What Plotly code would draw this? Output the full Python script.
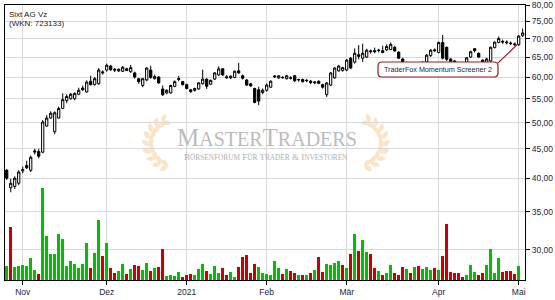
import math
import pandas as pd
import plotly.graph_objects as go

# ---------------- data ----------------
holidays = ["2020-12-24", "2020-12-25", "2020-12-31", "2021-01-01", "2021-04-02", "2021-04-05"]
dates = pd.bdate_range("2020-10-27", "2021-05-04")
dates = dates[~dates.isin(pd.to_datetime(holidays))]

opens = [41.3, 38.5, 38.7, 39.2, 41.2, 42.1, 41.3, 44.4, 44.5, 44.4,
         49.3, 50.9, 48.2, 50.9, 52.9, 54.6, 55.0, 55.0, 56.0, 57.4,
         56.5, 59.0, 58.2, 58.4, 61.0, 61.7, 62.7, 61.9, 61.5, 61.4,
         62.0, 61.3, 61.0, 59.6, 58.0, 59.3, 61.7, 59.6, 60.0, 57.2,
         56.3, 56.3, 57.8, 59.4, 58.9, 58.2, 57.0, 56.9, 57.2, 58.4,
         59.5, 58.3, 59.5, 60.5, 62.0, 59.8, 59.8, 59.9, 61.5, 60.3,
         59.3, 58.4, 57.3, 57.0, 56.4, 56.9, 57.6, 60.0, 59.8, 59.8,
         59.6, 59.7, 60.3, 59.3, 59.4, 59.1, 59.0, 58.6, 59.0, 58.2,
         55.9, 58.1, 59.8, 61.5, 61.6, 61.7, 64.7, 63.7, 65.6, 64.7,
         65.0, 66.4, 66.7, 66.7, 66.2, 66.9, 67.0, 67.6, 66.3, 64.5,
         62.8, 63.4, 62.8, 63.2, 62.9, 63.7, 65.4, 66.9, 66.2, 68.9,
         67.6, 64.5, 64.0, 63.0, 62.0, 63.5, 65.0, 67.2, 66.0, 64.2,
         63.5, 64.0, 67.5, 68.9, 69.0, 68.8, 68.6, 68.3, 68.3, 70.8]
highs = [41.5, 39.9, 40.3, 41.3, 41.9, 42.9, 43.8, 45.0, 45.0, 50.5,
         51.5, 52.3, 52.3, 53.3, 56.2, 56.0, 56.3, 56.4, 57.5, 58.0,
         59.2, 60.3, 60.0, 62.2, 61.6, 63.3, 63.0, 62.2, 62.1, 62.7,
         62.3, 63.0, 61.3, 59.8, 59.8, 62.4, 62.8, 60.6, 60.2, 58.0,
         57.1, 58.2, 59.2, 60.3, 59.1, 58.4, 57.2, 57.5, 58.8, 61.8,
         59.7, 59.4, 61.2, 62.6, 62.2, 60.5, 60.4, 61.6, 63.5, 60.6,
         59.5, 58.6, 57.5, 57.7, 57.3, 58.5, 59.2, 60.5, 60.4, 60.2,
         60.5, 60.2, 60.5, 59.6, 59.6, 59.5, 59.3, 59.0, 59.2, 58.4,
         58.8, 61.2, 62.4, 63.0, 62.5, 64.5, 65.0, 67.3, 68.2, 68.6,
         67.2, 67.0, 67.5, 67.2, 68.0, 68.4, 68.9, 67.9, 66.5, 64.8,
         63.8, 63.6, 63.6, 63.5, 64.0, 65.8, 67.1, 67.3, 69.2, 71.0,
         67.8, 64.7, 64.2, 63.3, 62.8, 65.0, 66.7, 67.4, 66.2, 64.4,
         64.8, 67.8, 69.2, 70.6, 69.7, 69.5, 69.2, 68.9, 71.0, 72.9]
lows = [39.7, 37.8, 38.3, 38.9, 40.8, 41.5, 41.0, 44.0, 43.3, 44.2,
        49.2, 50.8, 47.7, 50.8, 52.8, 54.0, 54.8, 54.7, 55.8, 56.8,
        56.4, 58.0, 58.0, 58.2, 60.6, 61.3, 61.5, 61.2, 61.2, 61.2,
        61.4, 61.0, 59.6, 58.4, 57.6, 59.0, 59.6, 59.4, 58.4, 55.6,
        56.0, 56.1, 57.6, 59.0, 58.0, 57.1, 56.3, 56.6, 57.0, 58.2,
        57.2, 58.1, 59.3, 60.3, 60.3, 59.6, 59.5, 59.7, 60.8, 59.4,
        57.9, 57.7, 54.0, 53.6, 56.0, 56.6, 57.4, 59.8, 59.5, 59.6,
        59.4, 59.4, 58.8, 58.9, 58.7, 58.8, 58.3, 58.3, 58.3, 57.3,
        55.4, 57.9, 59.6, 61.3, 61.3, 61.4, 62.0, 63.3, 64.4, 63.7,
        64.8, 65.9, 66.0, 66.2, 66.0, 66.6, 66.8, 66.4, 64.5, 62.5,
        62.5, 62.6, 62.5, 62.5, 62.6, 63.2, 65.0, 66.3, 66.0, 64.4,
        64.0, 63.6, 62.8, 62.0, 61.8, 63.2, 64.8, 66.2, 64.8, 63.0,
        63.2, 63.8, 67.3, 68.7, 68.5, 68.4, 68.2, 67.9, 68.0, 70.5]
closes = [40.0, 39.2, 40.0, 41.0, 41.4, 41.7, 43.5, 44.6, 43.7, 50.1,
          50.9, 51.9, 52.0, 52.9, 54.8, 55.5, 56.0, 56.2, 56.9, 57.0,
          58.8, 58.2, 59.6, 61.7, 61.2, 62.9, 61.8, 61.7, 61.9, 62.4,
          61.6, 62.3, 60.0, 58.9, 59.6, 62.2, 59.9, 60.1, 58.6, 55.9,
          56.9, 58.0, 58.9, 59.6, 58.2, 57.3, 56.6, 57.3, 58.6, 59.5,
          57.8, 59.2, 61.0, 62.0, 60.5, 60.0, 60.2, 61.4, 61.0, 59.7,
          58.1, 57.9, 54.2, 54.5, 56.9, 58.1, 59.0, 60.2, 60.3, 59.9,
          60.3, 59.8, 59.1, 59.4, 58.9, 59.2, 58.7, 58.8, 58.5, 57.6,
          58.6, 61.0, 62.2, 62.7, 62.3, 64.2, 62.2, 66.0, 65.2, 66.0,
          66.8, 66.6, 66.4, 66.8, 66.7, 67.8, 68.4, 66.6, 64.7, 63.0,
          63.5, 62.9, 63.4, 62.8, 63.6, 65.5, 66.8, 66.7, 68.9, 64.7,
          64.4, 63.9, 63.3, 62.5, 62.3, 64.8, 66.4, 66.7, 65.0, 63.5,
          64.5, 67.6, 69.0, 70.0, 69.2, 69.0, 68.7, 68.5, 70.7, 71.6]
volumes = [14000, 53000, 13000, 14000, 15000, 14000, 22000, 10000, 6000, 92000,
           44000, 26000, 26000, 46000, 41000, 14000, 19000, 16000, 12000, 16000,
           37000, 12000, 27000, 60000, 24000, 37000, 12000, 7000, 9000, 16000,
           6000, 11000, 15000, 14000, 10000, 17000, 9000, 12000, 13000, 31000,
           4000, 5000, 4000, 8000, 3000, 5000, 6000, 5000, 11000, 16000,
           9000, 6000, 14000, 7000, 12000, 5000, 8000, 3000, 13000, 23000,
           25000, 7000, 16000, 13000, 7000, 6000, 5000, 19000, 12000, 6000,
           11000, 9000, 7000, 5000, 5000, 5000, 7000, 10000, 23000, 8000,
           16000, 15000, 17000, 19000, 15000, 12000, 26000, 46000, 29000, 40000,
           28000, 26000, 12000, 9000, 5000, 7000, 15000, 7000, 5000, 13000,
           11000, 7000, 13000, 14000, 11000, 13000, 10000, 12000, 10000, 24000,
           56000, 8000, 7000, 7000, 3000, 5000, 15000, 8000, 5000, 7000,
           15000, 31000, 7000, 22000, 8000, 9000, 9000, 6000, 14000, 0]

month_names = {11: "Nov", 12: "Dez", 1: "2021", 2: "Feb", 3: "Mär", 4: "Apr", 5: "Mai"}
price_ticks = [30, 35, 40, 45, 50, 55, 60, 65, 70, 75, 80]
title_lines = ["Sixt AG Vz", "(WKN: 723133)"]
signal_text = "TraderFox Momentum Screener 2"
signal_index = 128

# ---------------- derived ----------------
x = list(range(len(dates)))
tick_pos, tick_txt = [], []
for i in range(1, len(dates)):
    if dates[i].month != dates[i - 1].month:
        tick_pos.append(i)
        tick_txt.append(month_names[dates[i].month])

GREEN, RED = "#00c000", "#cc0000"
vol_colors = [GREEN] + [GREEN if closes[i] >= closes[i - 1] else RED for i in range(1, len(closes))]

# pixel -> paper helpers (for decorations only)
W, H, ML, MR, MT, MB = 555, 300, 5, 30, 5, 20
PW, PH = W - ML - MR, H - MT - MB
def px(v):
    return (v - ML) / PW
def py(v):
    return (H - MB - v) / PH

fig = go.Figure()

fig.add_trace(go.Bar(x=x, y=volumes, marker=dict(color=vol_colors, line=dict(width=0)),
                     width=0.72, yaxis="y2", hoverinfo="skip", showlegend=False))

fig.add_trace(go.Candlestick(
    x=x, open=opens, high=highs, low=lows, close=closes,
    increasing=dict(line=dict(color="black", width=1), fillcolor="white"),
    decreasing=dict(line=dict(color="black", width=1), fillcolor="black"),
    whiskerwidth=0, showlegend=False, hoverinfo="skip"))

shapes = []
# laurel watermark
def leaf(bx, by, ang, L=9.5, Wd=3.0):
    dx, dy = math.cos(ang), math.sin(ang)
    tx, ty = bx + L * dx, by + L * dy
    mx, my = bx + 0.5 * L * dx, by + 0.5 * L * dy
    nx, ny = -dy, dx
    c1 = (mx + Wd * nx * 1.6, my + Wd * ny * 1.6)
    c2 = (mx - Wd * nx * 1.6, my - Wd * ny * 1.6)
    p = lambda a, b: f"{px(a):.5f},{py(b):.5f}"
    return f"M{p(bx, by)} Q{p(*c1)} {p(tx, ty)} Q{p(*c2)} {p(bx, by)} Z"

cx, cy, r = 172, 143, 23
for k in range(9):
    th = math.radians(100 + k * 18)
    bx, by = cx + r * math.cos(th), cy + r * math.sin(th)
    d = (-math.sin(th), math.cos(th))
    n = (math.cos(th), math.sin(th))
    for sgn in (0.9, -0.6):
        vx, vy = d[0] + sgn * n[0], d[1] + sgn * n[1]
        ang = math.atan2(vy, vx)
        for mirror in (False, True):
            if not mirror:
                path = leaf(bx, by, ang)
            else:
                path = leaf(2 * 266 - bx, by, math.pi - ang)
            shapes.append(dict(type="path", path=path, xref="paper", yref="paper",
                               fillcolor="rgba(248,205,150,0.55)", line=dict(width=0), layer="below"))

# highlight of the signal candle
shapes.append(dict(type="rect", xref="x", yref="y",
                   x0=signal_index - 0.6, x1=signal_index + 0.75,
                   y0=math.log10(lows[signal_index] * 0.993), y1=math.log10(highs[signal_index] * 1.004),
                   fillcolor="rgba(240,110,110,0.75)", line=dict(color="#e05555", width=1), layer="between"))

# rounded annotation box
bx0, bx1, by0, by1, rr = 378, 498, 62, 77, 4
def pp(a, b):
    return f"{px(a):.5f},{py(b):.5f}"
box = (f"M{pp(bx0 + rr, by0)} L{pp(bx1 - rr, by0)} Q{pp(bx1, by0)} {pp(bx1, by0 + rr)} "
       f"L{pp(bx1, by1 - rr)} Q{pp(bx1, by1)} {pp(bx1 - rr, by1)} L{pp(bx0 + rr, by1)} "
       f"Q{pp(bx0, by1)} {pp(bx0, by1 - rr)} L{pp(bx0, by0 + rr)} Q{pp(bx0, by0)} {pp(bx0 + rr, by0)} Z")
shapes.append(dict(type="path", path=box, xref="paper", yref="paper",
                   fillcolor="white", line=dict(color="#9b1c1c", width=1.2), layer="above"))

annotations = [
    dict(x=px(7), y=py(8), xref="paper", yref="paper", text=title_lines[0], showarrow=False,
         xanchor="left", yanchor="top", font=dict(size=8, color="#222222", family="Liberation Sans")),
    dict(x=px(7), y=py(17), xref="paper", yref="paper", text=title_lines[1], showarrow=False,
         xanchor="left", yanchor="top", font=dict(size=8, color="#222222", family="Liberation Sans")),
    dict(x=px(267), y=py(137), xref="paper", yref="paper", showarrow=False,
         text="M<span style='font-size:20px'>ASTER</span>T<span style='font-size:20px'>RADERS</span>",
         font=dict(size=25, color="#bcbcbc", family="Liberation Serif")),
    dict(x=px(266), y=py(157), xref="paper", yref="paper", showarrow=False,
         text="B<span style='font-size:7.3px'>ÖRSENFORUM</span> F<span style='font-size:7.3px'>ÜR</span> "
              "T<span style='font-size:7.3px'>RADER</span> &amp; I<span style='font-size:7.3px'>NVESTOREN</span>",
         font=dict(size=9, color="#b0b0b0", family="Liberation Serif")),
    dict(x=signal_index - 0.1, y=math.log10(68.6), xref="x", yref="y", text="", showarrow=True,
         arrowhead=0, arrowwidth=1.2, arrowcolor="#9b1c1c", ax=-22, ay=21, standoff=0, startstandoff=0),
    dict(x=px((bx0 + bx1) / 2), y=py((by0 + by1) / 2), xref="paper", yref="paper", text=signal_text,
         showarrow=False, xanchor="center", yanchor="middle", borderpad=0,
         font=dict(size=7.2, color="#1c2541", family="Liberation Sans")),
]

fig.update_layout(
    width=W, height=H, margin=dict(l=ML, r=MR, t=MT, b=MB, autoexpand=False),
    paper_bgcolor="white", plot_bgcolor="white", separators=",.",
    bargap=0, boxgap=0.2, showlegend=False, hovermode=False,
    shapes=shapes, annotations=annotations,
    xaxis=dict(range=[-0.43, len(x) - 0.42], tickvals=tick_pos, ticktext=tick_txt,
               showgrid=True, gridcolor="#d9d9d9", gridwidth=1, zeroline=False,
               showline=True, linecolor="black", linewidth=1, mirror=True,
               ticks="outside", ticklen=4, tickcolor="black", automargin=False,
               tickfont=dict(size=8.5, color="#1c2541", family="Liberation Sans"),
               rangeslider=dict(visible=False), fixedrange=True),
    yaxis=dict(type="log", side="right", range=[math.log10(26.6), math.log10(80.08)],
               tickvals=price_ticks, tickformat=".2f", automargin=False,
               showgrid=True, gridcolor="#d9d9d9", gridwidth=1, zeroline=False,
               showline=True, linecolor="black", linewidth=1, mirror=True,
               ticks="outside", ticklen=4, tickcolor="black",
               tickfont=dict(size=8.5, color="#1c2541", family="Liberation Sans")),
    yaxis2=dict(overlaying="y", range=[0, 275000], visible=False, showgrid=False, side="left"),
)

fig.write_html("out.html")
